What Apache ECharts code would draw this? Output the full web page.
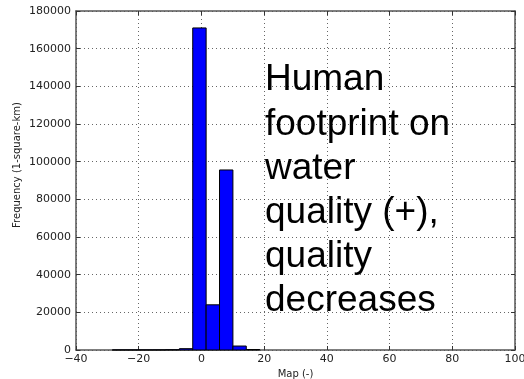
<!DOCTYPE html>
<html><head><meta charset="utf-8">
<script src="https://cdn.jsdelivr.net/npm/echarts@6/dist/echarts.min.js"></script>
<style>html,body{margin:0;padding:0;background:#fff}#c{width:524px;height:379px}</style>
</head><body><div id="c"></div>
<script>
// Histogram bin edges (x units) and counts
var binEdges = [-28.4, -24.1, -19.9, -15.6, -11.3, -7.04, -2.77, 1.5, 5.77, 10.04, 14.3, 18.6];
var counts = [60, 60, 60, 80, 150, 700, 171000, 24000, 95600, 2100, 250];
var xTicks = [-40, -20, 0, 20, 40, 60, 80, 100];
var yTicks = [0, 20000, 40000, 60000, 80000, 100000, 120000, 140000, 160000, 180000];
var annotationLines = ['Human', 'footprint on', 'water', 'quality (+),', 'quality', 'decreases'];
var xName = 'Map (-)';
var yName = 'Frequency (1-square-km)';

var data = counts.map(function (c, i) { return [binEdges[i], binEdges[i + 1], c]; });
var fmt = function (v) { return String(v).replace('-', '\u2212'); };
var chart = echarts.init(document.getElementById('c'), null, { renderer: 'canvas' });
var gridLine = { show: true, lineStyle: { color: '#000', type: [1, 3], width: 0.8, opacity: 0.75 } };
var axisLine = { show: true, onZero: false, lineStyle: { color: '#555', width: 1.5 } };
var tick = { show: true, inside: true, length: 4, lineStyle: { color: '#333' } };
var font = 'DejaVu Sans';
chart.setOption({
  animation: false,
  grid: { left: 76, right: 9, top: 11, bottom: 29, containLabel: false, outerBoundsMode: 'none' },
  xAxis: [{
    type: 'value', min: xTicks[0], max: xTicks[xTicks.length - 1], interval: 20,
    axisLine: axisLine, axisTick: tick,
    splitLine: gridLine,
    axisLabel: { color: '#222', fontFamily: font, fontSize: 11, margin: 4, formatter: fmt },
    name: xName, nameLocation: 'middle', nameGap: 16,
    nameTextStyle: { color: '#222', fontFamily: font, fontSize: 10 }
  }, {
    type: 'value', position: 'top', min: xTicks[0], max: xTicks[xTicks.length - 1], interval: 20,
    axisLine: axisLine, axisTick: tick,
    axisLabel: { show: false }, splitLine: { show: false }
  }],
  yAxis: [{
    type: 'value', min: 0, max: yTicks[yTicks.length - 1], interval: 20000,
    axisLine: axisLine, axisTick: tick,
    splitLine: gridLine,
    axisLabel: { color: '#222', fontFamily: font, fontSize: 11, margin: 5, formatter: function (v) { return String(v); } }
  }, {
    type: 'value', position: 'right', min: 0, max: yTicks[yTicks.length - 1], interval: 20000,
    axisLine: axisLine, axisTick: tick,
    axisLabel: { show: false }, splitLine: { show: false }
  }],
  series: [{
    type: 'custom', xAxisIndex: 0, yAxisIndex: 0, data: data,
    encode: { x: [0, 1], y: 2 },
    renderItem: function (params, api) {
      var p0 = api.coord([api.value(0), api.value(2)]);
      var p1 = api.coord([api.value(1), 0]);
      return {
        type: 'rect',
        shape: { x: p0[0], y: p0[1], width: p1[0] - p0[0], height: p1[1] - p0[1] },
        style: { fill: '#0000ff', stroke: '#000', lineWidth: 1 }
      };
    }
  }],
  graphic: [{
    type: 'text', left: 265, top: 58,
    style: {
      text: annotationLines.join('\n'), font: '37px "Liberation Sans", Arial, sans-serif',
      fill: '#000', lineHeight: 44.2
    }
  }, {
    type: 'text', x: 17, y: 165, rotation: Math.PI / 2,
    style: {
      text: yName, font: '10px "DejaVu Sans"', fill: '#222',
      align: 'center', verticalAlign: 'middle'
    }
  }]
});
</script></body></html>
